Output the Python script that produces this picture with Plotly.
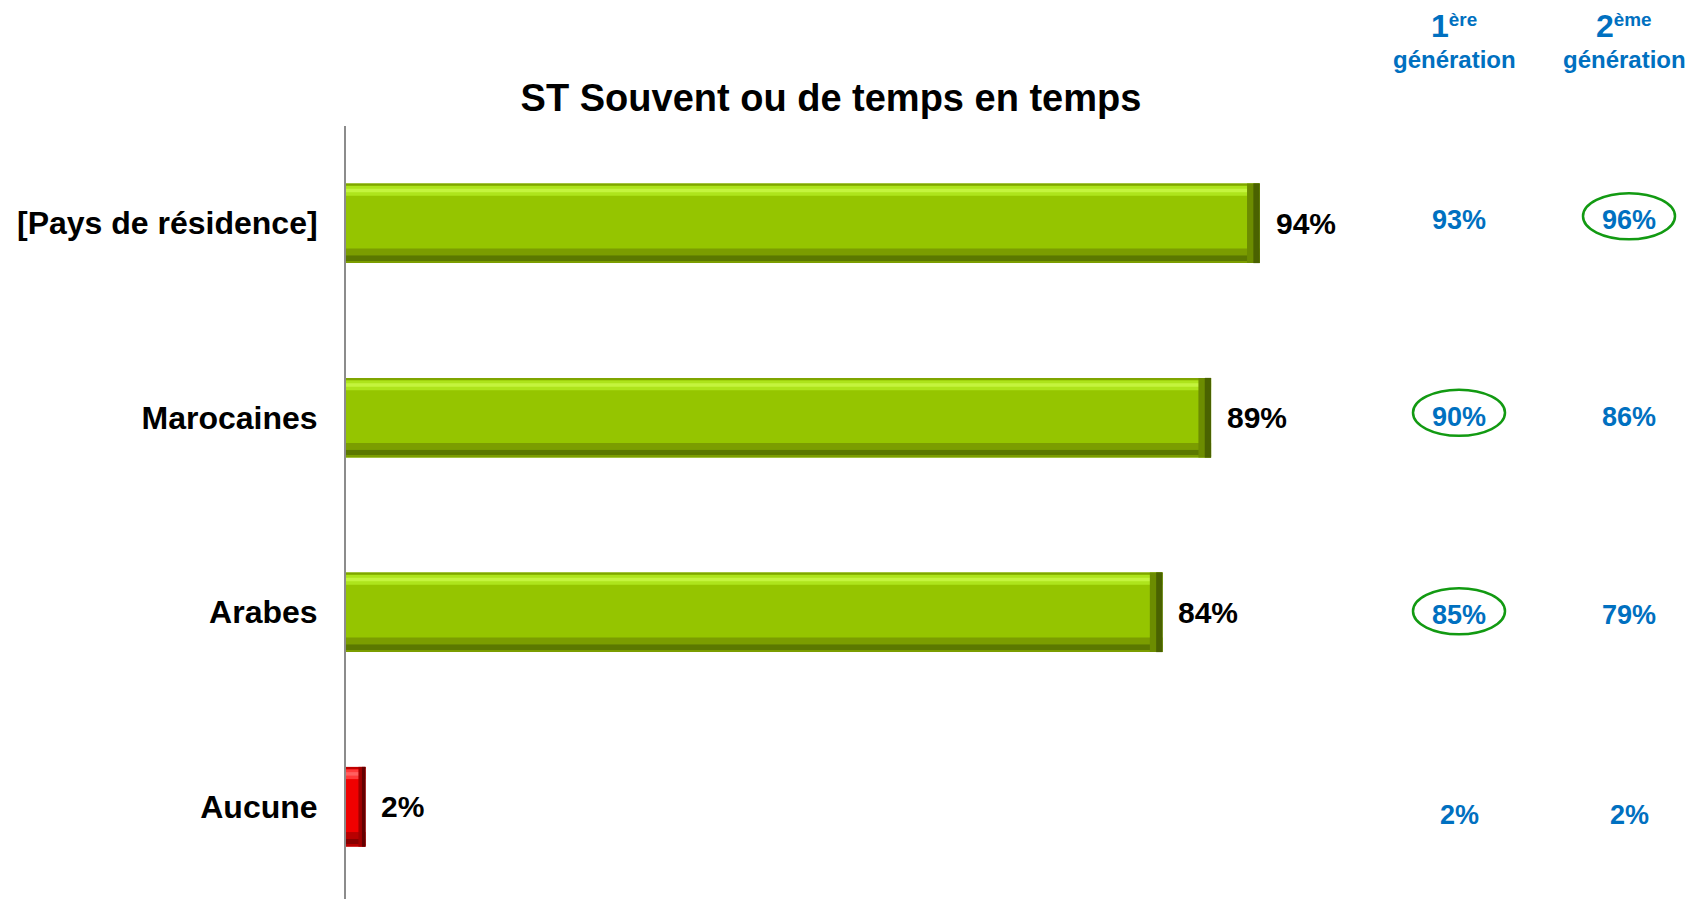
import plotly.graph_objects as go

# ---- data -------------------------------------------------------------
categories = ["[Pays de résidence]", "Marocaines", "Arabes", "Aucune"]
total_pct = [94, 89, 84, 2]
gen1_pct = [93, 90, 85, 2]
gen2_pct = [96, 86, 79, 2]
gen1_circled = [False, True, True, False]
gen2_circled = [True, False, False, False]
bar_tone = ["green", "green", "green", "red"]

title_text = "ST Souvent ou de temps en temps"
gen_headers = [("1", "ère"), ("2", "ème")]
gen_subtitle = "génération"

# ---- styling ----------------------------------------------------------
FONT = "Liberation Sans, Arial, sans-serif"
BLUE = "#0070C0"
CIRCLE = "#129A12"

W, H = 1690, 899
M_L, M_T = 346, 126
PLOT_W, PLOT_H = W - M_L, H - M_T
PX_PER_PCT = 9.72
PX_PER_ROW = 194.5

# vertical nudge (px, up positive) of the generation figures in each row
ROW_NUDGE = [3, 1, -3, -8]

TONES = {
    "green": dict(body="#95C500", rim="#7FA500", light="#AEE41C", glow="#C4F43E",
                  shade="#7B9D00", deep="#5B7800", cap="#6C8C00", capdeep="#4A6200"),
    "red": dict(body="#F00000", rim="#C00000", light="#FF3A3A", glow="#FF6060",
                shade="#B80000", deep="#880000", cap="#A00000", capdeep="#640000"),
}


def tone(key):
    return [TONES[t][key] for t in bar_tone]


fig = go.Figure()

BAR_W = 0.41
TOP = -BAR_W / 2


def layer(length, base, offset, width, colors):
    fig.add_trace(go.Bar(
        y=categories, x=length, base=base, orientation="h",
        offset=offset, width=width,
        marker=dict(color=colors, line=dict(width=0)),
        hoverinfo="skip", showlegend=False,
    ))


# bevelled bars built from stacked strips
layer(total_pct, 0, TOP, BAR_W, tone("body"))
layer(total_pct, 0, TOP, 0.011, tone("rim"))
layer(total_pct, 0, TOP + 0.013, 0.05, tone("light"))
layer(total_pct, 0, TOP + 0.027, 0.018, tone("glow"))
layer(total_pct, 0, TOP + 0.335, 0.035, tone("shade"))
layer(total_pct, 0, TOP + 0.370, 0.030, tone("deep"))
layer(total_pct, 0, TOP + 0.400, 0.010, tone("shade"))

# darker end cap, shaded in two steps
cap_w = [min(1.3, v * 0.36) for v in total_pct]
layer(cap_w, [v - c for v, c in zip(total_pct, cap_w)], TOP, BAR_W, tone("cap"))
layer([c / 2 for c in cap_w], [v - c / 2 for v, c in zip(total_pct, cap_w)],
      TOP, BAR_W, tone("capdeep"))

# value labels next to the bars
for cat, v in zip(categories, total_pct):
    fig.add_annotation(
        x=v, y=cat, xref="x", yref="y", text=f"{v}%",
        xanchor="left", yanchor="middle", xshift=14, showarrow=False,
        font=dict(family=FONT, size=30, color="black", weight="bold"),
    )


def paper_x(px):
    return (px - M_L) / PLOT_W


def paper_y(py):
    return (H - py) / PLOT_H


COL_X = [paper_x(1459), paper_x(1629)]
HEAD_X = [paper_x(1454), paper_x(1624)]

# generation columns
for j, (vals, circled) in enumerate([(gen1_pct, gen1_circled), (gen2_pct, gen2_circled)]):
    num, suffix = gen_headers[j]
    fig.add_annotation(
        x=HEAD_X[j], y=paper_y(26), xref="paper", yref="paper",
        text=f"<span style='font-size:32px'>{num}</span><sup>{suffix}</sup>",
        xanchor="center", yanchor="middle", showarrow=False,
        font=dict(family=FONT, size=27, color=BLUE, weight="bold"),
    )
    fig.add_annotation(
        x=HEAD_X[j], y=paper_y(60), xref="paper", yref="paper",
        text=gen_subtitle, xanchor="center", yanchor="middle", showarrow=False,
        font=dict(family=FONT, size=24, color=BLUE, weight="bold"),
    )
    for i, (cat, v) in enumerate(zip(categories, vals)):
        fig.add_annotation(
            x=COL_X[j], y=cat, xref="paper", yref="y", text=f"{v}%",
            xanchor="center", yanchor="middle", showarrow=False,
            yshift=ROW_NUDGE[i],
            font=dict(family=FONT, size=27, color=BLUE, weight="bold"),
        )
        if circled[i]:
            mid = ROW_NUDGE[i] + 4
            fig.add_shape(
                type="circle", xref="paper", yref="y",
                xsizemode="pixel", ysizemode="pixel",
                xanchor=COL_X[j], yanchor=i,
                x0=-46, x1=46, y0=mid - 23, y1=mid + 23,
                line=dict(color=CIRCLE, width=2.5),
            )

fig.update_layout(
    width=W, height=H,
    margin=dict(l=M_L, r=0, t=M_T, b=0, pad=0),
    paper_bgcolor="white", plot_bgcolor="white",
    barmode="overlay",
    showlegend=False,
    title=dict(
        text=title_text, x=831 / W, xanchor="center",
        y=1 - 98 / H, yanchor="middle",
        font=dict(family=FONT, size=38, color="black", weight="bold"),
    ),
    xaxis=dict(visible=False, range=[0, PLOT_W / PX_PER_PCT], fixedrange=True),
    yaxis=dict(
        type="category",
        range=[-0.5 + PLOT_H / PX_PER_ROW, -0.5],
        showline=True, linecolor="#8C8C8C", linewidth=2,
        showgrid=False, zeroline=False, ticks="",
        ticklabelstandoff=20,
        tickfont=dict(family=FONT, size=32, color="black", weight="bold"),
        fixedrange=True,
    ),
)

fig.write_html("out.html")
